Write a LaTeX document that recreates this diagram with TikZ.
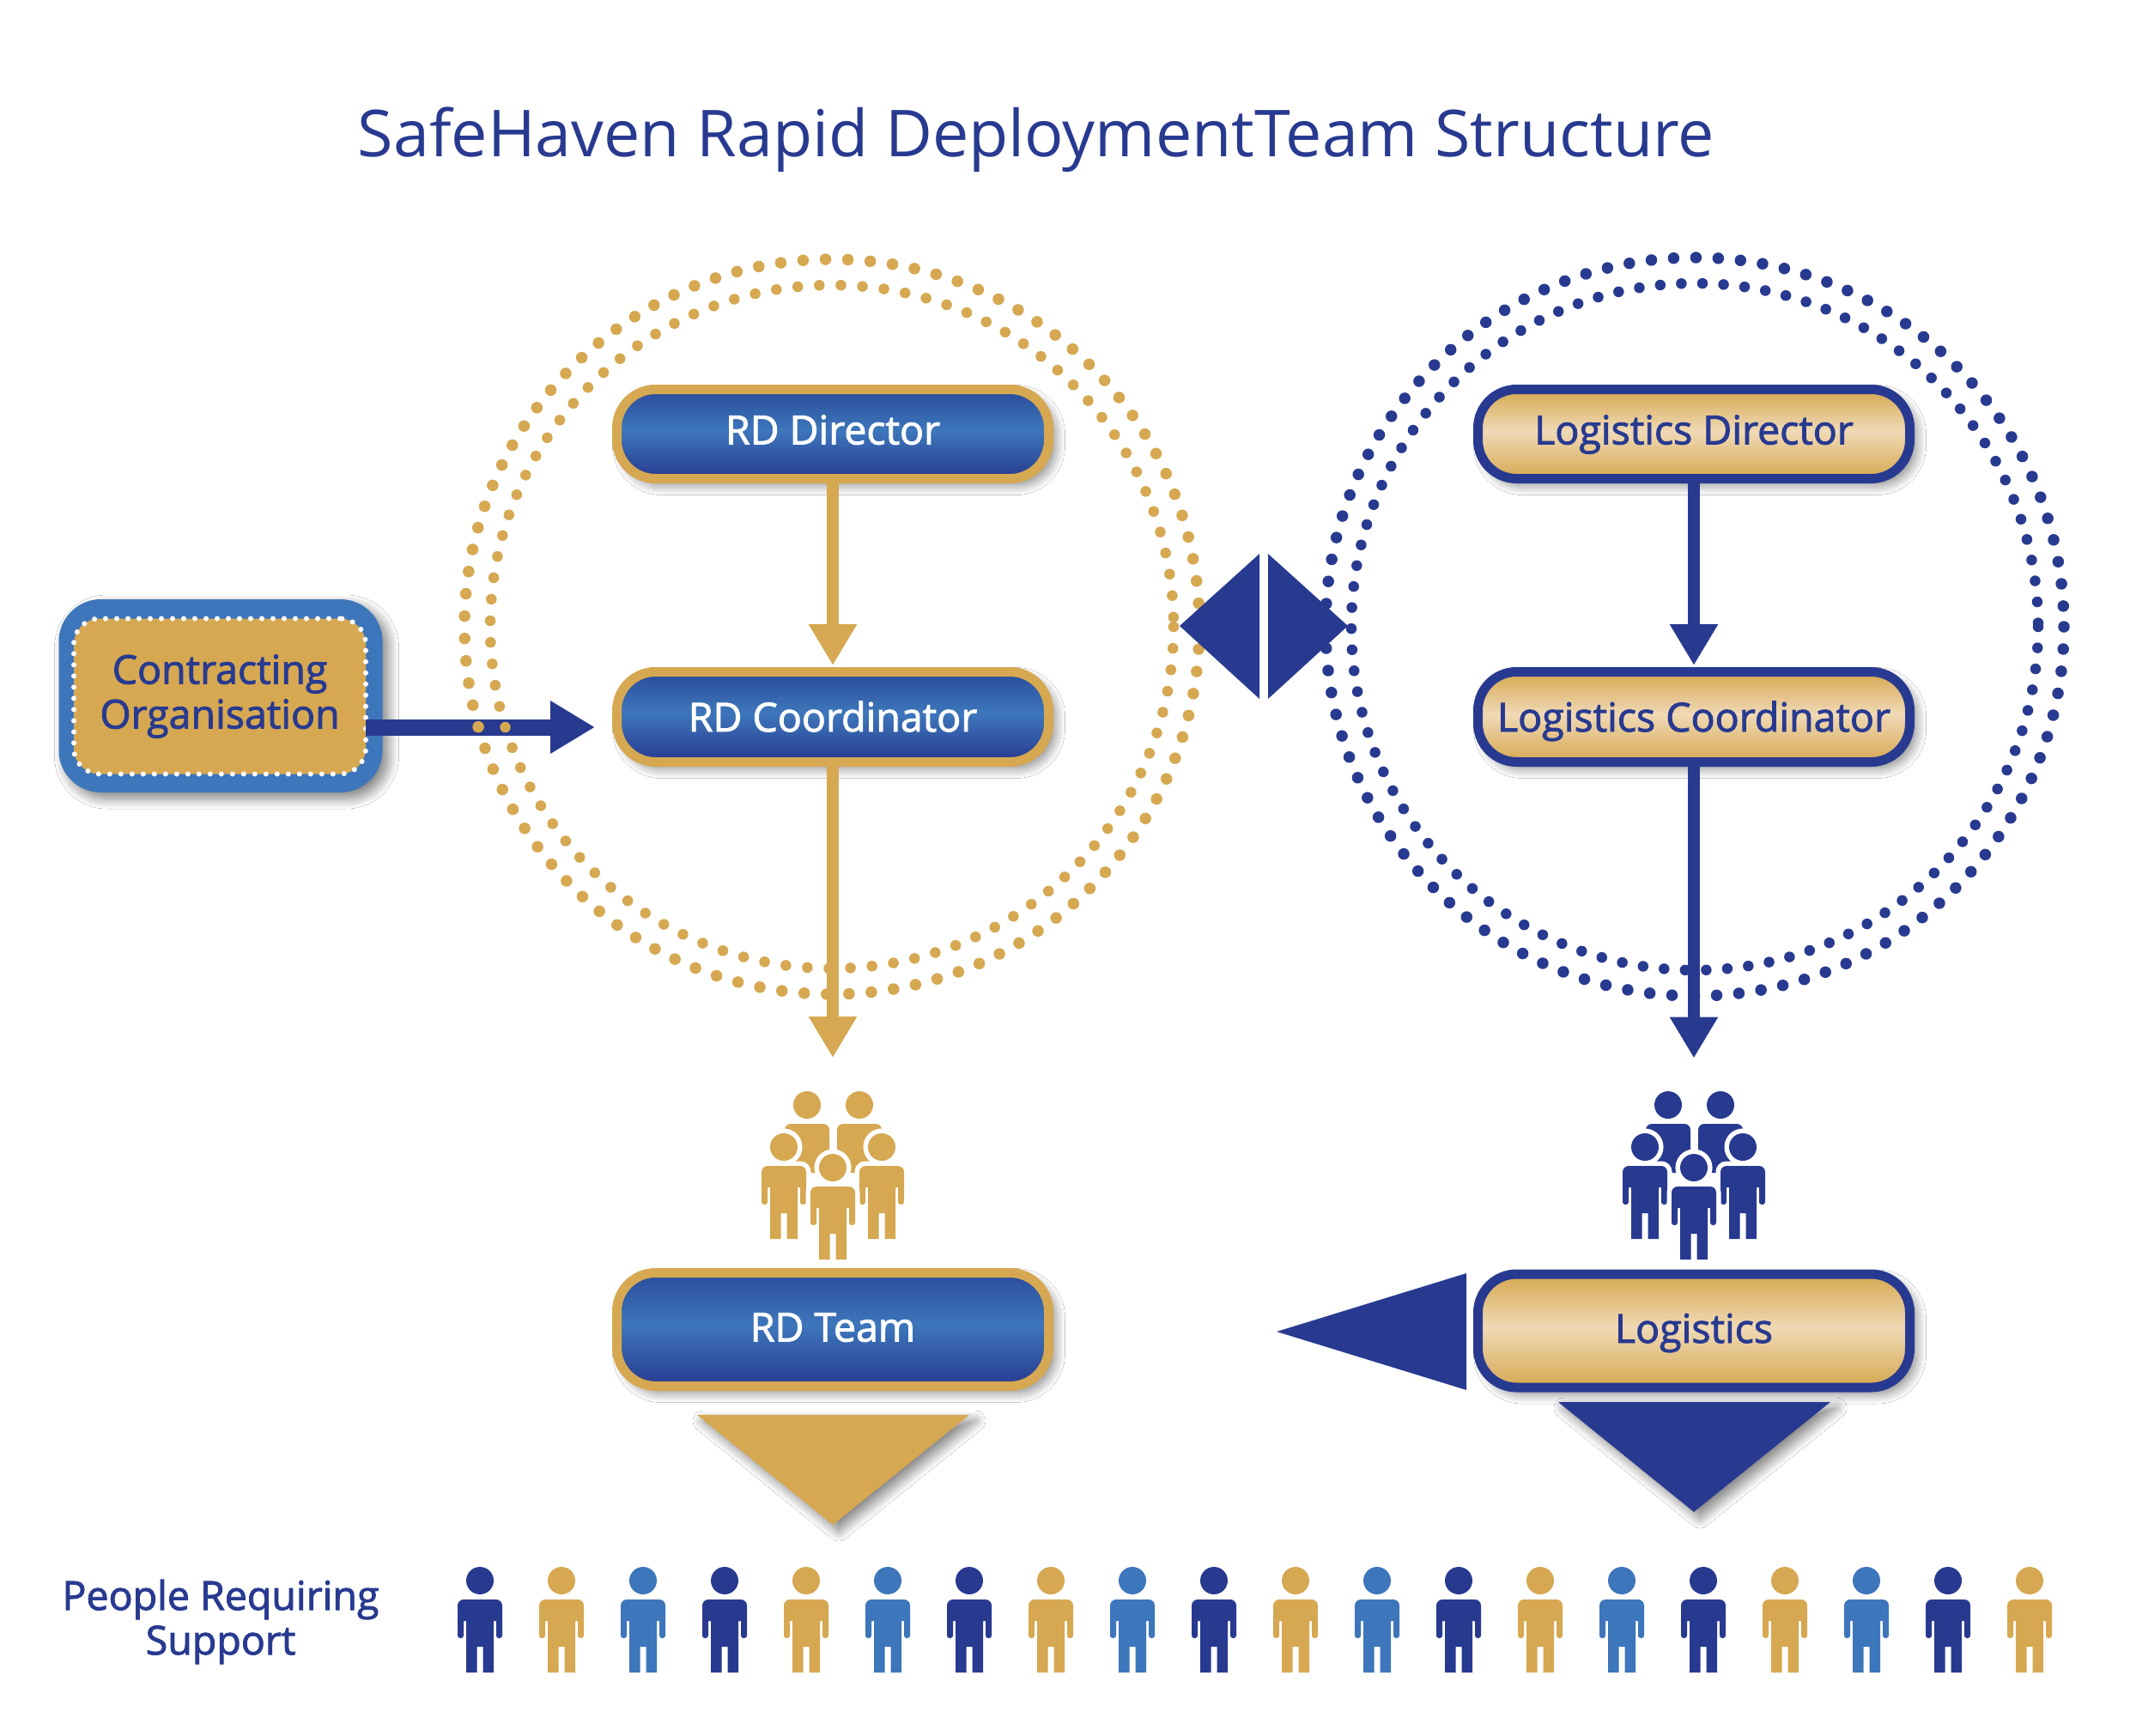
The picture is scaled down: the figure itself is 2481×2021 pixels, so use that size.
\documentclass[tikz,border=0pt]{standalone}
\usepackage{fontspec}
\setmainfont{Open Sans}
\newfontfamily\semib[FakeBold=2]{Open Sans}
\usetikzlibrary{arrows.meta,shadows.blur}
\definecolor{navy}{HTML}{283A90}
\definecolor{mid}{HTML}{3D76BB}
\definecolor{gold}{HTML}{D6A851}
\definecolor{goldl}{HTML}{F0D9B5}
\definecolor{navyt}{HTML}{2A4C9A}
\pgfdeclareverticalshading{blueg}{100bp}{color(0bp)=(navy);color(25bp)=(navy);color(52bp)=(mid);color(75bp)=(navyt);color(100bp)=(navyt)}
\pgfdeclareverticalshading{goldg}{100bp}{color(0bp)=(gold);color(25bp)=(gold);color(51.5bp)=(goldl);color(75bp)=(gold);color(100bp)=(gold)}
\newcommand\prs[1]{%
  \path[#1] (0,0) circle[radius=16];
  \path[#1,rounded corners=7pt] (-26,50) -- (-26,22) -- (26,22) -- (26,50) [rounded corners=3pt] -- (26,67) -- (19,67) [sharp corners] -- (19,47) -- (16,47) -- (16,107) -- (3.5,107) -- (3.5,77) -- (-3.5,77) -- (-3.5,107) -- (-16,107) -- (-16,47) -- (-19,47) [rounded corners=3pt] -- (-19,67) -- (-26,67) -- cycle;}
\newcommand\prsback[1]{%
  \path[#1] (0,0) circle[radius=16];
  \path[#1,rounded corners=7pt] (-26,50) -- (-26,22) -- (26,22) -- (26,50) [sharp corners] -- (26,79) -- (-26,79) -- cycle;}
\tikzset{
  shad/.style={blur shadow={shadow xshift=7pt,shadow yshift=-7pt,shadow blur radius=12pt,shadow blur steps=16,shadow opacity=50}},
  rbox/.style={rectangle,rounded corners=45pt,line width=11pt,minimum width=503pt,shad,font=\semib\fontsize{46.5}{46.5}\selectfont,inner sep=0pt,text height=34pt,text depth=0pt},
  bluebox/.style={rbox,draw=gold,shading=blueg,text=white},
  goldbox/.style={rbox,draw=navy,shading=goldg,text=navy},
  goldarr/.style={draw=gold,line width=14pt,-{Triangle[length=48pt,width=53pt,sep=0pt]}},
  navyarr/.style={draw=navy,line width=14pt,-{Triangle[length=48pt,width=53pt,sep=0pt]}},
  ringg/.style={draw=gold,line cap=round},
  ringn/.style={draw=navy,line cap=round},
  pics/pers/.style={code={\prs{fill=#1}}},
  pics/persb/.style={code={\prsback{fill=#1}}},
  pics/persh/.style={code={\prs{fill=white,draw=white,line width=11pt}\prs{fill=#1}}}
}
\newcommand\grp[3]{%
  \pic at (#1-30,1287) {persb=#3};
  \pic at (#1+31,1287) {persb=#3};
  \pic at (#1-57,1336) {persh=#3};
  \pic at (#1+57,1336) {persh=#3};
  \pic (#2) at (#1,1360) {persh=#3};}
\begin{document}
\begin{tikzpicture}[x=1pt,y=-1pt]
\useasboundingbox (0,0) rectangle (2481,2021);
\fill[white] (0,0) rectangle (2481,2021);
\node[text=navy,font=\fontsize{75.4}{75.4}\selectfont] (title) at (1207,163) {SafeHaven Rapid DeploymentTeam Structure};
% contracting box
\node[rectangle,rounded corners=49pt,fill=mid,minimum width=377pt,minimum height=225pt,shad,inner sep=0pt] (contractout) at (257,810.5) {};
\node[rectangle,rounded corners=30pt,fill=gold,draw=white,line width=6pt,line cap=round,dash pattern=on 0pt off 13pt,minimum width=340pt,minimum height=181pt,inner sep=0pt,outer sep=0pt,align=center,text=navy,font=\semib\fontsize{46.5}{52}\selectfont] (contract) at (256,811) {Contracting\\Organisation};
% connector
\coordinate (ca) at (contract.east |- 0,847);
\coordinate (cb) at (693,847);
\draw[draw=navy,line width=19pt,-{Triangle[length=52pt,width=58pt,sep=0pt]}] (ca) -- (cb);
% boxes
\node[bluebox,minimum height=104pt] (rddir) at (970,505.5) {\raisebox{5pt}{RD Director}};
\node[bluebox,minimum height=105pt] (rdcoord) at (970,835) {RD Coordinator};
\node[bluebox,minimum height=132pt] (rdteam) at (970,1548.5) {\raisebox{3pt}{RD Team}};
\node[goldbox,minimum height=104pt] (lgdir) at (1973,505.5) {\raisebox{5pt}{Logistics Director}};
\node[goldbox,minimum height=105pt] (lgcoord) at (1973,835) {Logistics Coordinator};
\node[goldbox,minimum height=132pt] (lg) at (1973,1550) {\raisebox{3pt}{Logistics}};
% rings
\draw[ringg,line width=12.5pt,dash pattern=on 0pt off 25.15pt] (969,730) circle[radius=398];
\draw[ringg,line width=13.5pt,dash pattern=on 0pt off 26.1pt] (969,730) circle[radius=428];
\draw[ringn,line width=12.5pt,dash pattern=on 0pt off 24.6pt] (1974,730) circle[radius=400];
\draw[ringn,line width=13.5pt,dash pattern=on 0pt off 26pt] (1974,730) circle[radius=430];
% arrows
\draw[goldarr,shorten >=2pt] (rddir) -- (rdcoord);
\draw[navyarr,shorten >=2pt] (lgdir) -- (lgcoord);
\draw[goldarr,shorten >=245pt] (rdcoord) -- (rdteam);
\draw[navyarr,shorten >=246pt] (lgcoord) -- (lg);
% diamond
\fill[navy] (1467,645) -- (1467,814) -- (1374,729) -- cycle;
\fill[navy] (1477,645) -- (1477,814) -- (1570,729) -- cycle;
% triangles
\path[fill=gold,shad] (812,1648) -- (1129,1648) -- (970,1776) -- cycle;
\path[fill=navy,shad] (1815,1633) -- (2132,1633) -- (1973,1761) -- cycle;
\fill[navy] (1708,1483) -- (1708,1619) -- (1487,1551) -- cycle;
% groups
\grp{970}{g1}{gold}
\grp{1973}{g2}{navy}
% row
\foreach \i/\c in {0/navy,1/gold,2/mid,3/navy,4/gold,5/mid,6/navy,7/gold,8/mid,9/navy,10/gold,11/mid,12/navy,13/gold,14/mid,15/navy,16/gold,17/mid,18/navy,19/gold}
  \pic at ({559+95*\i},1841) {pers=\c};
\node[text=navy,align=center,font=\semib\fontsize{46.5}{52}\selectfont] (people) at (257,1889) {People Requiring\\Support};
\end{tikzpicture}
\end{document}
